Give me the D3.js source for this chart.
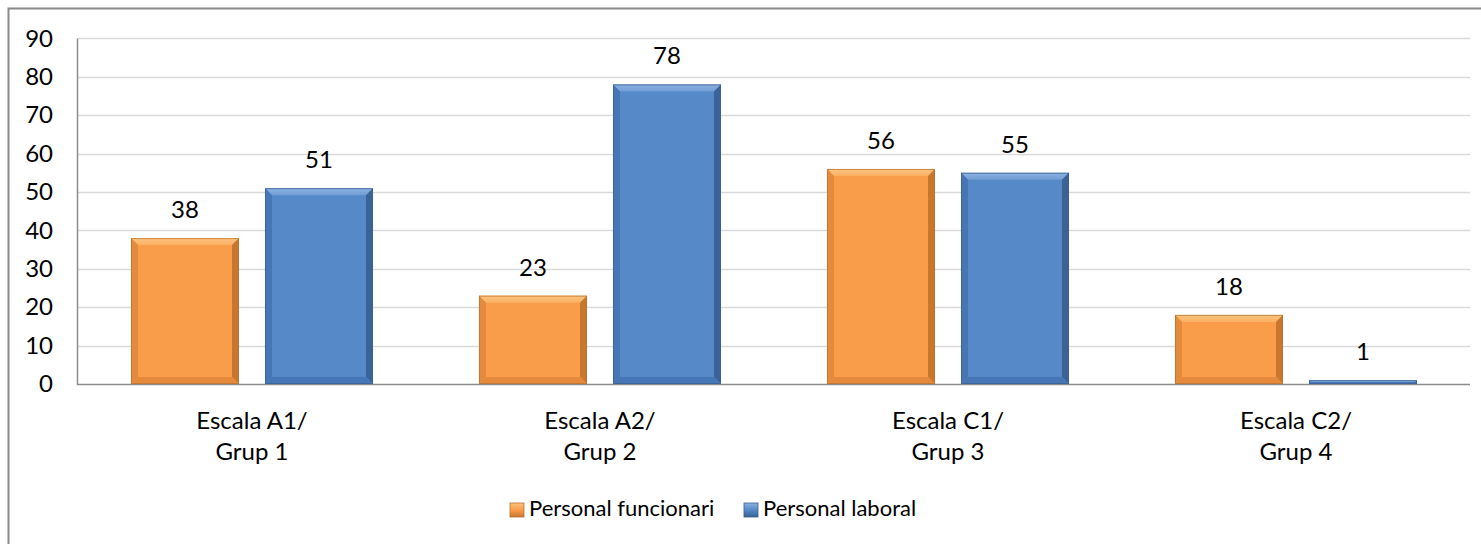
<!DOCTYPE html>
<html>
<head>
<meta charset="utf-8">
<script src="https://cdn.jsdelivr.net/npm/d3@7"></script>
<style>
  html, body { margin: 0; padding: 0; background: #fff; }
  svg { display: block; }
  text { font-family: Lato, "Open Sans", sans-serif; fill: #000; }
</style>
</head>
<body>
<svg id="chart" width="1481" height="544"></svg>
<script>
// Staff by scale/group
const categories = [["Escala A1/", "Grup 1"], ["Escala A2/", "Grup 2"], ["Escala C1/", "Grup 3"], ["Escala C2/", "Grup 4"]];
const seriesNames = ["Personal funcionari", "Personal laboral"];
const funcionari = [38, 23, 56, 18];
const laboral = [51, 78, 55, 1];
const yTicks = [0, 10, 20, 30, 40, 50, 60, 70, 80, 90];

const palette = [
  { base: "#F99D4B", light: "#FCC47E", side: "#E58A3C", dark: "#C9772F", edge: "#B8702F" },
  { base: "#5589C8", light: "#8CB2E2", side: "#4676B5", dark: "#3B6398", edge: "#3A5E8E" }
];

const W = 1481, H = 544;
const margin = { left: 78, right: 11 };
const svg = d3.select("#chart");
const labelSize = 24;
const legendSize = 22;

// outer frame (right and bottom edges run past the canvas)
svg.append("rect")
  .attr("x", 8.5).attr("y", 8.5)
  .attr("width", W + 20).attr("height", H + 20)
  .attr("fill", "none").attr("stroke", "#8a8a8a").attr("stroke-width", 2);

const x0 = d3.scaleBand()
  .domain(d3.range(categories.length))
  .range([margin.left, W - margin.right])
  .paddingInner(0).paddingOuter(0);

const x1 = d3.scaleBand()
  .domain([0, 1])
  .range([0, x0.bandwidth()])
  .paddingInner(0.194)
  .paddingOuter(0.3955);

const y = d3.scaleLinear().domain([0, 90]).range([384, 38.4]);

// gridlines
svg.append("g")
  .selectAll("line").data(yTicks.slice(1)).join("line")
  .attr("x1", margin.left).attr("x2", W - margin.right)
  .attr("y1", d => Math.round(y(d)) + 0.5).attr("y2", d => Math.round(y(d)) + 0.5)
  .attr("stroke", "#d9d9d9").attr("stroke-width", 1.5);

// y axis labels
const yAxis = d3.axisLeft(y).tickValues(yTicks).tickSize(0).tickPadding(25);
const gy = svg.append("g").attr("transform", `translate(${margin.left},0)`).call(yAxis);
gy.select(".domain").remove();
gy.selectAll("text").style("font-size", labelSize + "px").attr("fill", "#000")
  .style("font-family", "Lato, 'Open Sans', sans-serif");

// axis lines
svg.append("line")
  .attr("x1", margin.left - 0.5).attr("x2", margin.left - 0.5)
  .attr("y1", y(90)).attr("y2", y(0) + 1)
  .attr("stroke", "#8c8c8c").attr("stroke-width", 1.5);
svg.append("line")
  .attr("x1", margin.left - 1).attr("x2", W - margin.right)
  .attr("y1", y(0) + 0.5).attr("y2", y(0) + 0.5)
  .attr("stroke", "#8c8c8c").attr("stroke-width", 1.5);

// gradients for bevel faces
const defs = svg.append("defs");
palette.forEach((p, i) => {
  const gTop = defs.append("linearGradient").attr("id", "top" + i)
    .attr("x1", 0).attr("y1", 0).attr("x2", 0).attr("y2", 1);
  gTop.append("stop").attr("offset", 0).attr("stop-color", p.light);
  gTop.append("stop").attr("offset", 1).attr("stop-color", d3.interpolateRgb(p.light, p.base)(0.5));
  const gLeg = defs.append("linearGradient").attr("id", "leg" + i)
    .attr("x1", 0).attr("y1", 0).attr("x2", 0).attr("y2", 1);
  gLeg.append("stop").attr("offset", 0).attr("stop-color", p.light);
  gLeg.append("stop").attr("offset", 0.5).attr("stop-color", p.base);
  gLeg.append("stop").attr("offset", 1).attr("stop-color", p.dark);
});

// bevelled bar drawing
function drawBar(g, bx, by, bw, bh, p, i) {
  const b = Math.min(7, bh / 2, bw / 2);
  const x2 = bx + bw, y2 = by + bh;
  g.append("rect").attr("x", bx).attr("y", by).attr("width", bw).attr("height", bh)
    .attr("fill", p.base);
  if (bh >= 3) {
    g.append("polygon").attr("points", [[bx, by], [x2, by], [x2 - b, by + b], [bx + b, by + b]].join(" "))
      .attr("fill", `url(#top${i})`);
    g.append("polygon").attr("points", [[bx, by], [bx + b, by + b], [bx + b, y2 - b], [bx, y2]].join(" "))
      .attr("fill", p.side);
    g.append("polygon").attr("points", [[x2, by], [x2, y2], [x2 - b, y2 - b], [x2 - b, by + b]].join(" "))
      .attr("fill", p.dark);
    g.append("polygon").attr("points", [[bx, y2], [bx + b, y2 - b], [x2 - b, y2 - b], [x2, y2]].join(" "))
      .attr("fill", p.side);
  }
  g.append("rect").attr("x", bx + 0.5).attr("y", by + 0.5).attr("width", Math.max(0, bw - 1)).attr("height", Math.max(0, bh - 1))
    .attr("fill", "none").attr("stroke", p.edge).attr("stroke-width", 1).attr("stroke-opacity", 0.7);
}

const series = [funcionari, laboral];
const barsG = svg.append("g");
categories.forEach((c, ci) => {
  series.forEach((vals, si) => {
    const v = vals[ci];
    const bx = x0(ci) + x1(si);
    const bw = x1.bandwidth();
    const by = y(v);
    const bh = y(0) - y(v);
    drawBar(barsG, bx, by, bw, bh, palette[si], si);
    barsG.append("text")
      .attr("x", bx + bw / 2).attr("y", by - 20)
      .attr("text-anchor", "middle").style("font-size", labelSize + "px")
      .text(v);
  });
});

// category labels
const catG = svg.append("g");
categories.forEach((lines, ci) => {
  const cx = x0(ci) + x0.bandwidth() / 2;
  const t = catG.append("text").attr("text-anchor", "middle").style("font-size", labelSize + "px");
  lines.forEach((ln, li) => {
    t.append("tspan").attr("x", cx).attr("y", 429 + li * 31).text(ln);
  });
});

// legend
const legendItems = [{ x: 510, name: seriesNames[0], i: 0 }, { x: 744, name: seriesNames[1], i: 1 }];
const legG = svg.append("g");
legendItems.forEach(it => {
  legG.append("rect").attr("x", it.x).attr("y", 503).attr("width", 14).attr("height", 14)
    .attr("fill", `url(#leg${it.i})`).attr("stroke", palette[it.i].edge).attr("stroke-width", 0.8);
  legG.append("text").attr("x", it.x + 19).attr("y", 516).style("font-size", legendSize + "px").text(it.name);
});
</script>
</body>
</html>
